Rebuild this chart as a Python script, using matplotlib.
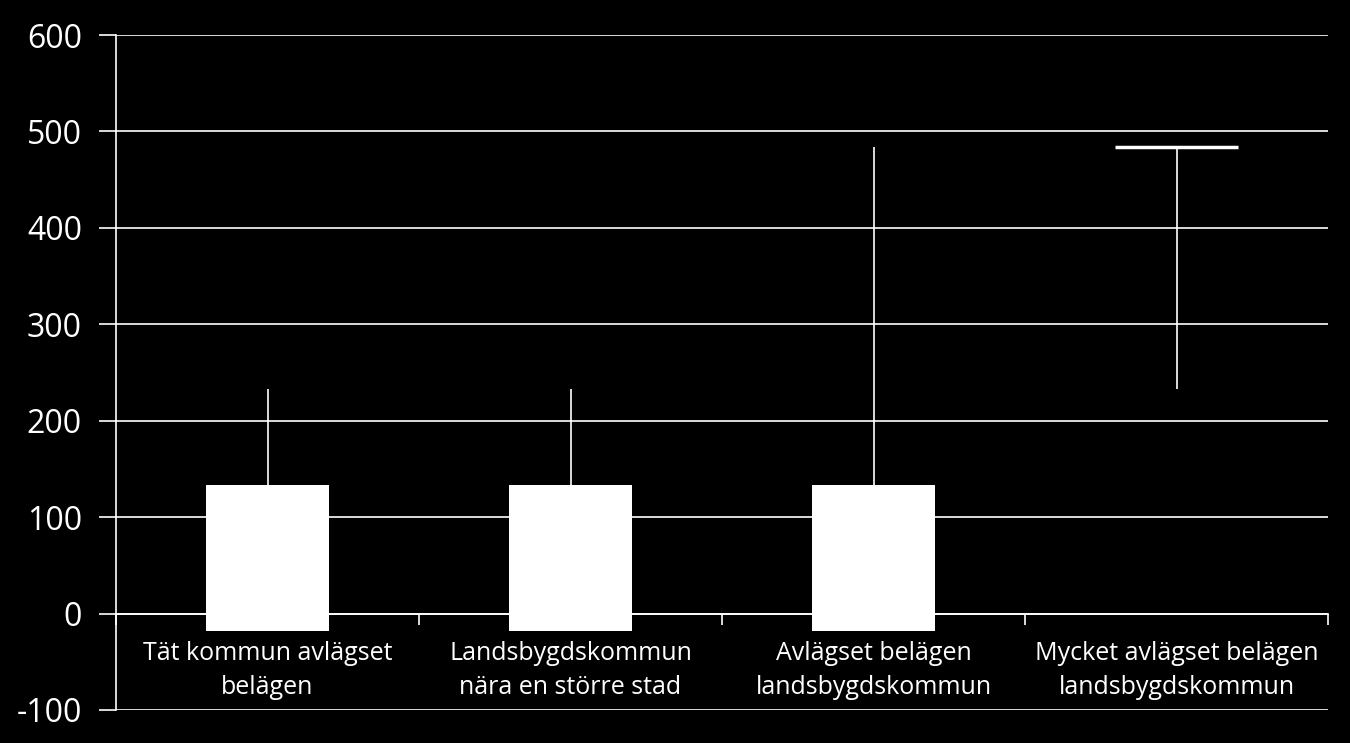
import matplotlib

matplotlib.use("Agg")
import matplotlib.pyplot as plt  # noqa: E402
import numpy as np  # noqa: E402

categories = [
    "Tät kommun avlägset\nbelägen",
    "Landsbygdskommun\nnära en större stad",
    "Avlägset belägen\nlandsbygdskommun",
    "Mycket avlägset belägen\nlandsbygdskommun",
]
box_low = [-18, -18, -18, np.nan]
box_high = [133, 133, 133, np.nan]
whisker_low = [133, 133, 133, 233]
whisker_high = [233, 233, 484, 484]
has_cap = [False, False, False, True]
y_ticks = [-100, 0, 100, 200, 300, 400, 500, 600]

plt.rcParams["font.family"] = ["Open Sans", "DejaVu Sans"]

fig = plt.figure(figsize=(13.5, 7.43), dpi=100, facecolor="black")
ax = fig.add_axes((116 / 1350, 33 / 743, (1328 - 116) / 1350, (710 - 35) / 743))
ax.set_facecolor("black")

x = np.arange(len(categories))
width = 0.403

ax.set_ylim(-100, 600)
ax.set_xlim(-0.5, len(categories) - 0.5)
ax.set_yticks(y_ticks)
ax.set_yticklabels([str(v) for v in y_ticks])  # plain hyphen like the original
ax.grid(axis="y", color="white", linewidth=1.2)
ax.set_axisbelow(True)

lo = np.array(box_low, dtype=float)
hi = np.array(box_high, dtype=float)
ax.bar(x, hi - lo, width, bottom=lo, color="white", zorder=3)
ax.vlines(x, whisker_low, whisker_high, color="white", linewidth=1.2, zorder=2)
for xi, wh, cap in zip(x, whisker_high, has_cap):
    if cap:
        ax.hlines(wh, xi - width / 2, xi + width / 2, color="white", linewidth=2.5, zorder=3)

for side in ("top", "right"):
    ax.spines[side].set_visible(False)
ax.spines["left"].set_color("white")
ax.spines["left"].set_linewidth(1.2)
ax.spines["bottom"].set_position(("data", 0))
ax.spines["bottom"].set_color("white")
ax.spines["bottom"].set_linewidth(1.2)

ax.set_xticks(x)
ax.set_xticklabels(categories, fontsize=18, color="white", linespacing=1.5)
ax.set_xticks(np.arange(-0.5, len(categories)), minor=True)
ax.tick_params(axis="x", which="major", length=0, pad=19.5)
ax.tick_params(axis="x", which="minor", length=8, width=1.2, color="white", direction="out")
ax.tick_params(axis="y", length=12, width=1.2, color="white", labelcolor="white", labelsize=23, pad=12.5)

fig.savefig("out.png", dpi=100, facecolor="black")
